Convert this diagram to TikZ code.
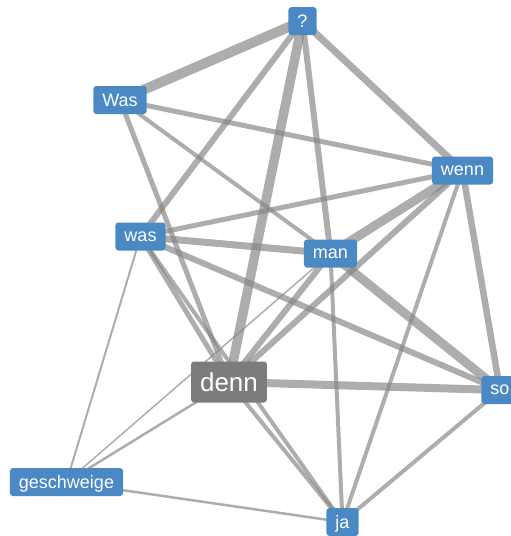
\documentclass[tikz,border=0pt]{standalone}
\usepackage{fontspec}
\setmainfont{Liberation Sans}
\usetikzlibrary{backgrounds}
\definecolor{nodeblue}{RGB}{74,137,196}
\definecolor{dennfill}{RGB}{124,124,124}
\definecolor{edgegray}{RGB}{134,134,134}
\tikzset{
  word/.style={fill=nodeblue, text=white, rounded corners=3pt, inner xsep=9pt, inner ysep=0pt,
    minimum height=28pt, font=\fontsize{18}{21}\selectfont},
  centerword/.style={word, fill=dennfill, minimum height=41pt, inner xsep=9pt, font=\fontsize{26}{30}\selectfont},
  link/.style={draw=edgegray, draw opacity=0.68, line width=#1},
}
\begin{document}
\begin{tikzpicture}[x=1pt,y=-1pt]
\useasboundingbox (0,0) rectangle (511,536);
\node[word, minimum width=28pt] (q) at (302.5,21) {?};
\node[word] (Was) at (120,100) {Was};
\node[word] (wenn) at (462.5,170.5) {wenn};
\node[word] (was) at (140.5,236.5) {was};
\node[word] (man) at (330.5,253.5) {man};
\node[centerword] (denn) at (229,382) {denn};
\node[word] (so) at (500,390) {so};
\node[word, text depth=0pt] (gesch) at (66.5,482) {geschweige};
\node[word, text depth=0pt] (ja) at (342.5,522) {ja};
\begin{scope}[on background layer]
\draw[link=10pt] (q.center) -- (Was.center);
\draw[link=9.5pt] (q.center) -- (denn.center);
\draw[link=6pt] (q.center) -- (man.center);
\draw[link=7pt] (q.center) -- (wenn.center);
\draw[link=6pt] (q.center) -- (was.center);
\draw[link=5pt] (Was.center) -- (wenn.center);
\draw[link=4pt] (Was.center) -- (man.center);
\draw[link=5pt] (Was.center) -- (denn.center);
\draw[link=5pt] (wenn.center) -- (was.center);
\draw[link=9pt] (wenn.center) -- (man.center);
\draw[link=6pt] (wenn.center) -- (denn.center);
\draw[link=6.5pt] (wenn.center) -- (so.center);
\draw[link=4pt] (wenn.center) -- (ja.center);
\draw[link=7pt] (was.center) -- (man.center);
\draw[link=5pt] (was.center) -- (denn.center);
\draw[link=6pt] (was.center) -- (so.center);
\draw[link=4pt] (was.center) -- (ja.center);
\draw[link=2pt] (was.center) -- (gesch.center);
\draw[link=6pt] (man.center) -- (denn.center);
\draw[link=9pt] (man.center) -- (so.center);
\draw[link=4pt] (man.center) -- (ja.center);
\draw[link=1.5pt] (man.center) -- (gesch.center);
\draw[link=8pt] (denn.center) -- (so.center);
\draw[link=4pt] (denn.center) -- (ja.center);
\draw[link=2.5pt] (denn.center) -- (gesch.center);
\draw[link=4pt] (so.center) -- (ja.center);
\draw[link=2.5pt] (gesch.center) -- (ja.center);
\end{scope}
\end{tikzpicture}
\end{document}
